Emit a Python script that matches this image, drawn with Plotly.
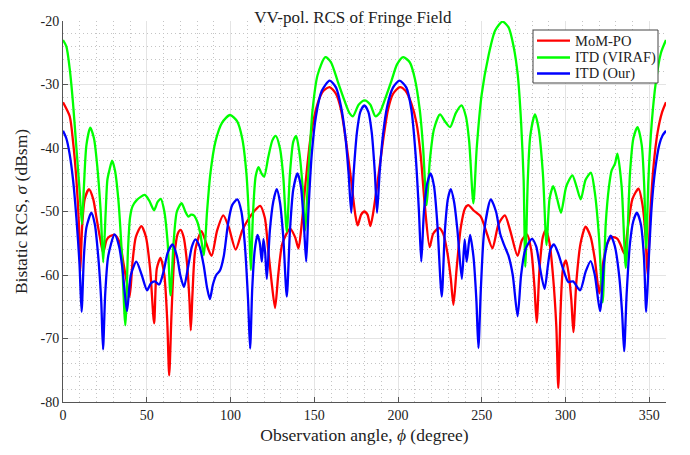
import plotly.graph_objects as go

# ---------------- data ----------------
mom_angle = [0, 4, 6, 8, 9.5, 10.3, 11.5, 13, 15.5, 18, 20, 22, 24, 26, 28, 31, 34, 36, 38, 39.8,
             41.5, 43.5, 46.8, 49.5, 52, 54.4, 56, 58.2, 60.5, 62.2, 63.4, 64.8, 66.5, 68.5, 70.2,
             72, 74, 75.5, 76.3, 77.3, 79, 82.7, 85.5, 88.7, 92, 95.7, 99, 103.1, 107, 110, 114,
             117.7, 120.5, 122.5, 124.5, 126.6, 128.5, 131, 135.6, 138.5, 140.6, 142.5, 145, 148,
             152, 155.5, 159.2, 163, 166, 169, 172, 174.5, 175.9, 178, 179.9, 181.8, 183.5, 185,
             188, 191, 194, 197, 201.1, 204.5, 208, 211, 213.5, 216, 218.9, 221, 224.5, 227,
             229.5, 231.5, 233.1, 235, 237.5, 240, 242, 245, 249.4, 252.5, 256.4, 260, 263.8, 267,
             271.4, 274, 277, 279.5, 281.5, 282.8, 284.5, 286.5, 288.3, 290.5, 292.5, 294.5, 295.7,
             297, 298.5, 300.3, 302, 303.5, 304.7, 306.5, 309, 312, 315, 317.5, 320.2, 322.5, 325,
             327.6, 331, 333, 335, 337.5, 340, 343.6, 346, 347.8, 349, 350.5, 352.5, 355, 357.5, 360]
mom_rcs = [-32.8, -35.0, -39.0, -45.0, -52.0, -59.5, -52.0, -48.0, -46.5, -48.0, -51.0, -54.0, -56.5,
           -54.5, -53.9, -53.7, -55.0, -58.0, -61.0, -63.4, -58.0, -54.0, -52.3, -54.0, -59.0, -67.6,
           -59.0, -57.3, -60.0, -67.0, -75.8, -66.0, -57.0, -53.5, -52.9, -54.0, -58.0, -64.0, -68.7,
           -63.0, -56.0, -53.1, -55.0, -57.0, -53.0, -50.6, -52.5, -56.0, -53.0, -51.5, -50.0, -49.1,
           -51.0, -56.0, -61.0, -65.2, -60.0, -55.0, -52.7, -54.0, -55.8, -52.0, -45.0, -38.0, -33.0,
           -31.0, -30.4, -31.5, -34.0, -39.0, -45.0, -50.5, -52.2, -50.5, -50.0, -50.5, -52.3, -50.5,
           -45.0, -39.0, -34.0, -31.5, -30.4, -31.0, -33.0, -36.0, -41.0, -49.0, -55.6, -53.5, -52.6,
           -53.5, -56.5, -60.5, -64.7, -59.0, -52.5, -49.5, -49.0, -49.8, -50.8, -53.0, -55.8, -52.0,
           -50.6, -53.0, -57.0, -54.5, -53.6, -56.0, -62.0, -67.5, -59.0, -54.0, -52.9, -55.0, -60.0,
           -68.0, -77.8, -66.0, -59.0, -57.7, -60.0, -64.0, -69.0, -61.0, -55.0, -52.4, -54.0, -57.5,
           -62.9, -58.0, -55.0, -54.0, -54.3, -55.3, -56.6, -52.0, -48.0, -46.4, -49.0, -54.0, -60.0,
           -51.0, -43.0, -37.5, -34.5, -32.8]

viraf_angle = [0, 2, 4, 6, 8, 10, 11.3, 12.5, 14, 16.3, 18.5, 20.5, 22.5, 24, 25.5, 26.5, 27.7, 29.3,
               31, 33, 35, 37.2, 38.8, 40, 41.5, 44, 48.8, 51.5, 54.4, 56.5, 58.4, 60.5, 62.5, 64.2,
               66, 68, 70.8, 73, 74.8, 76.5, 78.1, 80, 82, 84.1, 86, 88, 91, 95, 99.7, 104, 107,
               109.5, 111, 112.1, 113.5, 115, 116.7, 118.5, 120.1, 122.5, 125, 127, 129.5, 131.5,
               133.6, 135.5, 137.5, 139.2, 141, 143, 144.5, 146.5, 149, 152, 156.6, 160, 164, 168,
               171, 173.1, 176.5, 180.1, 183.5, 186.5, 189, 192, 196, 199.5, 203.1, 207, 210, 213,
               215, 217.1, 219, 221.5, 225.1, 228, 231.1, 234.5, 237.9, 240.5, 242.5, 245, 247, 250,
               254, 258, 262.4, 266, 269, 271.5, 273.5, 275, 276, 277.5, 279, 281.8, 284, 286.5,
               288.7, 290.5, 292.7, 295, 297.3, 300.5, 304.1, 306.5, 309.1, 312, 315.2, 317.5, 320,
               322.2, 324, 326, 327.6, 329.5, 331, 333.5, 336, 338.5, 340.5, 343, 345.5, 347, 348.2,
               349.5, 351.5, 354, 357, 360]
viraf_rcs = [-23.0, -24.0, -27.5, -33.0, -40.0, -47.0, -52.0, -46.0, -39.5, -36.8, -38.5, -43.0, -50.0,
             -58.0, -50.0, -45.0, -43.5, -42.0, -43.5, -48.0, -56.0, -67.9, -56.0, -51.0, -49.2, -48.2,
             -47.4, -48.3, -49.8, -48.5, -48.0, -50.0, -55.0, -63.2, -55.0, -50.0, -48.7, -50.0, -50.8,
             -50.5, -50.6, -51.5, -53.5, -56.9, -50.0, -44.0, -39.0, -36.0, -34.8, -35.8, -38.5, -44.0,
             -51.0, -59.2, -50.0, -44.5, -43.0, -44.0, -44.5, -41.5, -38.8, -38.1, -40.0, -44.5, -53.2,
             -44.0, -39.0, -38.1, -40.5, -46.0, -53.0, -44.0, -34.0, -28.5, -25.7, -26.5, -29.5, -32.5,
             -34.5, -35.0, -33.2, -32.5, -33.2, -35.0, -34.5, -32.5, -29.5, -26.8, -25.7, -26.5, -29.0,
             -34.0, -40.0, -49.0, -42.0, -37.0, -34.7, -35.8, -36.7, -34.5, -33.3, -35.0, -39.0, -48.7,
             -40.0, -31.5, -25.5, -21.5, -20.1, -21.0, -24.0, -28.5, -36.0, -45.0, -58.7, -45.0, -38.0,
             -34.7, -37.0, -44.0, -55.3, -48.0, -46.0, -48.0, -50.2, -46.0, -44.3, -46.0, -48.1, -45.0,
             -43.9, -47.0, -54.0, -64.3, -52.0, -46.0, -43.5, -42.5, -40.9, -46.0, -58.9, -44.0, -38.5,
             -36.7, -39.5, -46.0, -55.8, -45.0, -36.0, -29.5, -25.0, -23.0]

our_angle = [0, 2, 4, 6, 8, 9.8, 11.1, 12.5, 14, 16.9, 19, 21, 22.8, 23.9, 25.2, 27, 30.8, 33.5, 35.5,
             38.2, 40.5, 43.8, 47, 50.2, 52.5, 54.8, 57.4, 60, 62.5, 65.4, 68, 70, 72.2, 74.5, 77,
             79.1, 81.5, 84, 86, 87.7, 89.5, 91.5, 93.7, 96, 98.5, 101, 104.1, 106.5, 108.5, 110.5,
             111.7, 113, 114.5, 116.1, 117.5, 118.7, 119.7, 120.7, 121.7, 123.5, 125.5, 127.6, 129.5,
             131.5, 133.6, 135.5, 137.5, 140, 142, 143.8, 145.2, 146.5, 148.5, 151, 154.5, 159.2, 163,
             166, 168.5, 170.5, 172.1, 173.5, 175.5, 177.5, 179.9, 182.3, 184.3, 186.2, 187.5, 189,
             191, 193.5, 197, 200.9, 205, 208, 210.5, 212.5, 213.9, 215.5, 217.5, 219.5, 221.5,
             223.5, 226.1, 228, 229.8, 231.5, 233.5, 235.5, 238.1, 239.8, 241, 243, 245, 246.8, 248,
             249.5, 251.5, 255.4, 258.5, 261, 263.4, 266, 268.5, 271.4, 273.5, 276, 280, 282.5,
             284.5, 287.5, 289.5, 291, 293.1, 295.5, 298.5, 301.7, 304.5, 308.7, 312, 315, 317.5,
             320.6, 323, 325, 327, 329.5, 332, 333.8, 335, 336.5, 338.5, 340.5, 342.6, 345, 346.8,
             348.2, 349.8, 351.5, 353.5, 356, 358, 360]
our_rcs = [-37.3, -38.5, -41.0, -45.0, -51.0, -58.0, -65.8, -57.0, -52.5, -50.2, -52.0, -57.0, -64.0,
           -71.7, -63.0, -57.0, -53.6, -55.5, -59.0, -65.7, -60.0, -57.9, -60.0, -62.4, -61.3, -61.0,
           -61.5, -59.5, -56.5, -55.2, -57.0, -60.0, -61.9, -59.0, -55.5, -54.4, -55.5, -58.5, -62.0,
           -63.8, -61.5, -60.0, -59.3, -57.0, -52.0, -49.0, -48.1, -50.0, -55.0, -64.0, -71.6, -62.0,
           -56.0, -53.7, -55.0, -57.9, -54.3, -56.5, -60.6, -53.0, -48.5, -46.5, -48.5, -54.0, -63.4,
           -53.0, -46.5, -44.0, -46.0, -52.0, -57.9, -50.0, -41.0, -35.0, -31.0, -29.4, -30.5, -33.5,
           -38.0, -44.0, -50.2, -44.0, -37.5, -34.3, -33.3, -34.3, -37.5, -44.0, -50.2, -44.0, -38.0,
           -33.5, -30.5, -29.4, -30.5, -34.0, -41.0, -50.0, -57.9, -50.0, -45.5, -44.0, -46.0, -52.0,
           -63.4, -53.0, -48.0, -46.5, -48.5, -53.0, -60.6, -54.4, -57.9, -53.7, -57.0, -64.0, -71.5,
           -62.0, -53.0, -48.1, -50.0, -53.5, -55.3, -57.0, -60.0, -66.5, -60.0, -56.0, -54.3, -55.5,
           -58.5, -62.2, -58.5, -56.0, -55.2, -56.5, -59.0, -61.1, -61.0, -62.4, -59.5, -57.8, -60.0,
           -65.7, -58.0, -55.0, -53.8, -55.5, -60.0, -66.0, -72.0, -63.0, -55.0, -51.5, -50.2, -52.0,
           -57.0, -65.8, -57.0, -49.0, -43.5, -39.5, -38.0, -37.3]

x_ticks = [0, 50, 100, 150, 200, 250, 300, 350]
y_ticks = [-80, -70, -60, -50, -40, -30, -20]

# ---------------- figure ----------------
FONT = "Liberation Serif"
TXT = "#222222"
FIG_W, FIG_H = 682, 447          # page body adds an 8 px margin
ML, MR, MT, MB = 55, 24, 13, 53
PW = FIG_W - ML - MR
PH = FIG_H - MT - MB

fig = go.Figure()
series = [
    ("MoM-PO", mom_angle, mom_rcs, "#ff0000"),
    ("ITD (VIRAF)", viraf_angle, viraf_rcs, "#00ff00"),
    ("ITD (Our)", our_angle, our_rcs, "#0000ff"),
]
for name, xs, ys, col in series:
    fig.add_trace(go.Scatter(x=xs, y=ys, mode="lines", name=name, showlegend=False,
                             line=dict(color=col, width=2.3, shape="spline", smoothing=0.7)))

# custom legend box (MATLAB-like compact layout), positioned in paper coords
def px(xpix):  # figure pixel -> paper x
    return (xpix - ML) / PW

def py(ypix):  # figure pixel -> paper y
    return (FIG_H - MB - ypix) / PH

box_l, box_r, box_t, box_b = 525, 650, 22, 75
fig.add_shape(type="rect", xref="paper", yref="paper",
              x0=px(box_l), x1=px(box_r), y0=py(box_b), y1=py(box_t),
              line=dict(color="#444444", width=1), fillcolor="white", layer="above")
row_y = [32.7, 49.5, 65.5]
for (name, _, _, col), ry in zip(series, row_y):
    fig.add_shape(type="line", xref="paper", yref="paper",
                  x0=px(529), x1=px(562), y0=py(ry), y1=py(ry),
                  line=dict(color=col, width=2.3), layer="above")
    fig.add_annotation(x=px(565), y=py(ry), xref="paper", yref="paper", text=name,
                       showarrow=False, xanchor="left", yanchor="middle",
                       font=dict(family=FONT, size=14.5, color=TXT))

axis_common = dict(
    showline=True, linecolor="#555555", linewidth=1,
    ticks="inside", ticklen=5, tickcolor="#555555",
    showgrid=True, gridcolor="#e4e4e4", gridwidth=1,
    zeroline=False, mirror=False, automargin=False,
    tickfont=dict(family=FONT, size=14, color=TXT),
)
fig.update_layout(
    width=FIG_W, height=FIG_H,
    margin=dict(l=ML, r=MR, t=MT, b=MB),
    paper_bgcolor="white", plot_bgcolor="white",
    font=dict(family=FONT, color=TXT),
    title=dict(text="VV-pol. RCS of Fringe Field", x=px(360), xanchor="center",
               y=1 - 3 / FIG_H, yanchor="top", font=dict(family=FONT, size=17, color=TXT)),
    xaxis=dict(range=[0, 360], tickvals=x_ticks, ticktext=[str(v) for v in x_ticks],
               title=dict(text="Observation angle, <i>ϕ</i> (degree)", standoff=6,
                          font=dict(family=FONT, size=17.5, color=TXT)),
               minor=dict(dtick=10, showgrid=True, gridcolor="#c4c4c4", griddash="1px,3px",
                          gridwidth=1, ticks=""),
               **axis_common),
    yaxis=dict(range=[-80, -20], tickvals=y_ticks, ticktext=[str(v) for v in y_ticks],
               title=dict(text="Bistatic RCS, <i>σ</i> (dBsm)", standoff=8,
                          font=dict(family=FONT, size=17.5, color=TXT)),
               minor=dict(dtick=2, showgrid=True, gridcolor="#c4c4c4", griddash="1px,3px",
                          gridwidth=1, ticks=""),
               **axis_common),
    showlegend=False,
)

fig.write_html("out.html")
